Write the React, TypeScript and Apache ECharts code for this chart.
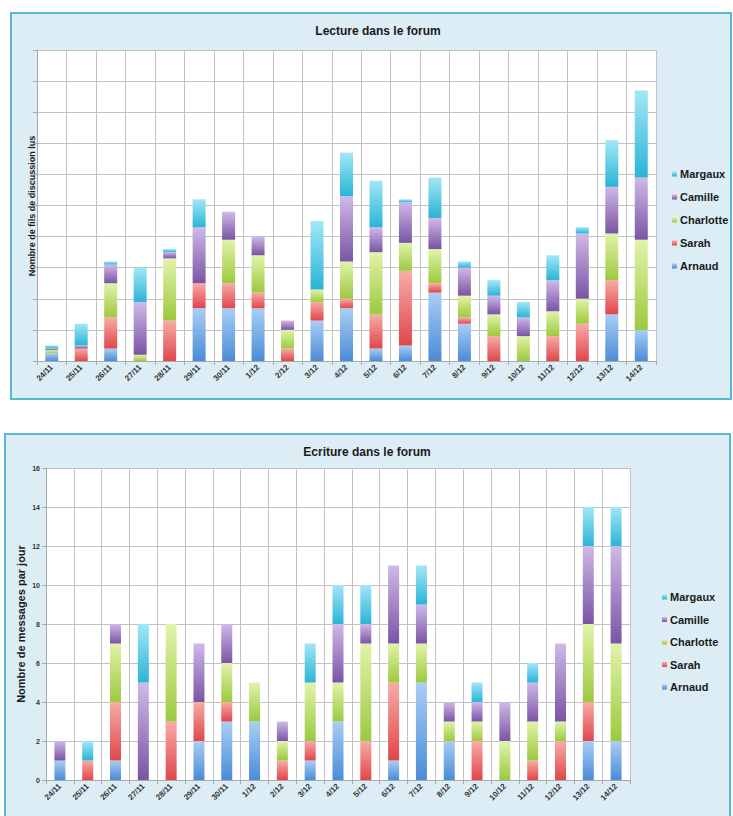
import React, { useEffect, useRef } from "react";
import * as echarts from "echarts";

const dates = ["24/11","25/11","26/11","27/11","28/11","29/11","30/11","1/12","2/12","3/12","4/12","5/12","6/12","7/12","8/12","9/12","10/12","11/12","12/12","13/12","14/12"];

// Lecture (threads read)
const readArnaud = [2.5,0,4,0,0,17,17,17,0,13,17,4,5,22,12,0,0,0,0,15,10];
const readSarah = [0,4,10,0,13,8,8,5,4,6,3,11,24,3,2,8,0,8,12,11,0];
const readCharlotte = [1,0,11,2,20,0,14,12,6,4,12,20,9,11,7,7,8,8,8,15,29];
const readCamille = [0.5,1,6,17,2,18,9,6,3,0,21,8,13,10,9,6,6,10,21,15,20];
const readMargaux = [1,7,1,11,1,9,0,0,0,22,14,15,1,13,2,5,5,8,2,15,28];

// Ecriture (messages written)
const writeArnaud = [1,0,1,0,0,2,3,3,0,1,3,0,1,5,2,0,0,0,0,2,2];
const writeSarah = [0,1,3,0,3,2,1,0,1,1,0,2,4,0,0,2,0,1,2,2,0];
const writeCharlotte = [0,0,3,0,5,0,2,2,1,3,2,5,2,2,1,1,2,2,1,4,5];
const writeCamille = [1,0,1,5,0,3,2,0,1,0,3,1,4,2,1,1,2,2,4,4,5];
const writeMargaux = [0,1,0,3,0,0,0,0,0,2,2,2,0,2,0,1,0,1,0,2,2];

const names = ["Arnaud", "Sarah", "Charlotte", "Camille", "Margaux"];
const legendOrder = ["Margaux", "Camille", "Charlotte", "Sarah", "Arnaud"];
const gradients: Record<string, [string, string]> = {
  Arnaud: ["#aacdf4", "#4a8cd8"],
  Sarah: ["#f7aca8", "#e0464a"],
  Charlotte: ["#e2f3ab", "#9cc93e"],
  Camille: ["#d0b9e8", "#7954a5"],
  Margaux: ["#a2e7f7", "#2ab4d6"],
};

const FONT = "'Liberation Sans', Arial, sans-serif";
const GRID_COLOR = "#c2c2c2";

export default function App() {
  const ref = useRef<HTMLDivElement>(null);
  useEffect(() => {
    if (!ref.current) return;
    const chart = echarts.init(ref.current, null, { renderer: "svg" });
    const grad = (n: string) =>
      new echarts.graphic.LinearGradient(0, 0, 0, 1, [
        { offset: 0, color: gradients[n][0] },
        { offset: 1, color: gradients[n][1] },
      ]);
    const readData = [readArnaud, readSarah, readCharlotte, readCamille, readMargaux];
    const writeData = [writeArnaud, writeSarah, writeCharlotte, writeCamille, writeMargaux];
    const series: any[] = [];
    names.forEach((n, i) => {
      series.push({
        name: n, type: "bar", stack: "read", xAxisIndex: 0, yAxisIndex: 0,
        data: readData[i], barWidth: 13, itemStyle: { color: grad(n) },
      });
    });
    names.forEach((n, i) => {
      series.push({
        name: n, type: "bar", stack: "write", xAxisIndex: 1, yAxisIndex: 1,
        data: writeData[i], barWidth: 11, itemStyle: { color: grad(n) },
      });
    });
    const xAxisBase = (gi: number) => ({
      gridIndex: gi, type: "category", data: dates,
      axisLine: { show: true, lineStyle: { color: "#a8a8a8" } },
      axisTick: { show: true, length: 4, interval: 0, lineStyle: { color: "#a8a8a8" } },
      splitLine: { show: true, interval: 0, lineStyle: { color: GRID_COLOR } },
      axisLabel: { interval: 0, rotate: 45, fontSize: 8, fontWeight: "bold", color: "#333", fontFamily: FONT, margin: 5 },
    });
    const legendBase = (left: number, top: number, gap: number) => ({
      data: legendOrder, orient: "vertical", left, top, padding: 0, itemWidth: 5, itemHeight: 5, itemGap: gap,
      icon: "rect", selectedMode: false,
      textStyle: { fontSize: 11, fontWeight: "bold", color: "#1a1a1a", fontFamily: FONT, padding: [0, 0, 0, -2], lineHeight: 12 },
    });
    chart.setOption({
      animation: false,
      grid: [
        { left: 37, top: 50, width: 619, height: 311, show: true, backgroundColor: "#ffffff", borderWidth: 0 },
        { left: 46, top: 468, width: 584, height: 312, show: true, backgroundColor: "#ffffff", borderWidth: 0 },
      ],
      xAxis: [xAxisBase(0), xAxisBase(1)],
      yAxis: [
        {
          gridIndex: 0, type: "value", min: 0, max: 100, interval: 10,
          axisLabel: { show: false },
          axisLine: { show: true, lineStyle: { color: "#a8a8a8" } },
          axisTick: { show: true, length: 4, lineStyle: { color: "#a8a8a8" } },
          splitLine: { lineStyle: { color: GRID_COLOR } },
        },
        {
          gridIndex: 1, type: "value", min: 0, max: 16, interval: 2,
          axisLabel: { fontSize: 7, fontWeight: "bold", color: "#333", fontFamily: FONT, margin: 6 },
          axisLine: { show: true, lineStyle: { color: "#a8a8a8" } },
          axisTick: { show: true, length: 4, lineStyle: { color: "#a8a8a8" } },
          splitLine: { lineStyle: { color: GRID_COLOR } },
        },
      ],
      legend: [legendBase(672, 168, 11), legendBase(662, 591, 10.5)],
      graphic: [
        { type: "text", x: 378, y: 31, style: { text: "Lecture dans le forum", align: "center", verticalAlign: "middle", fontSize: 12, fontWeight: "bold", fill: "#1a1a1a", fontFamily: FONT } },
        { type: "text", x: 367, y: 452, style: { text: "Ecriture dans le forum", align: "center", verticalAlign: "middle", fontSize: 12, fontWeight: "bold", fill: "#1a1a1a", fontFamily: FONT } },
        { type: "text", x: 32, y: 206, rotation: Math.PI / 2, style: { text: "Nombre de fils de discussion lus", align: "center", verticalAlign: "middle", fontSize: 9, fontWeight: "bold", fill: "#1a1a1a", fontFamily: FONT } },
        { type: "text", x: 21, y: 624, rotation: Math.PI / 2, style: { text: "Nombre de messages par jour", align: "center", verticalAlign: "middle", fontSize: 11, fontWeight: "bold", fill: "#1a1a1a", fontFamily: FONT } },
      ],
      series,
    });
    return () => chart.dispose();
  }, []);
  return (
    <div style={{ position: "absolute", left: 0, top: 0, width: 733, height: 816, background: "#ffffff", overflow: "hidden" }}>
      <div style={{ position: "absolute", left: 10, top: 12, width: 718, height: 384, background: "#dcedf5", border: "2px solid #5ab7d0" }} />
      <div style={{ position: "absolute", left: 4, top: 433, width: 723, height: 400, background: "#dcedf5", border: "2px solid #5ab7d0" }} />
      <div ref={ref} style={{ position: "absolute", left: 0, top: 0, width: 733, height: 816 }} />
    </div>
  );
}
